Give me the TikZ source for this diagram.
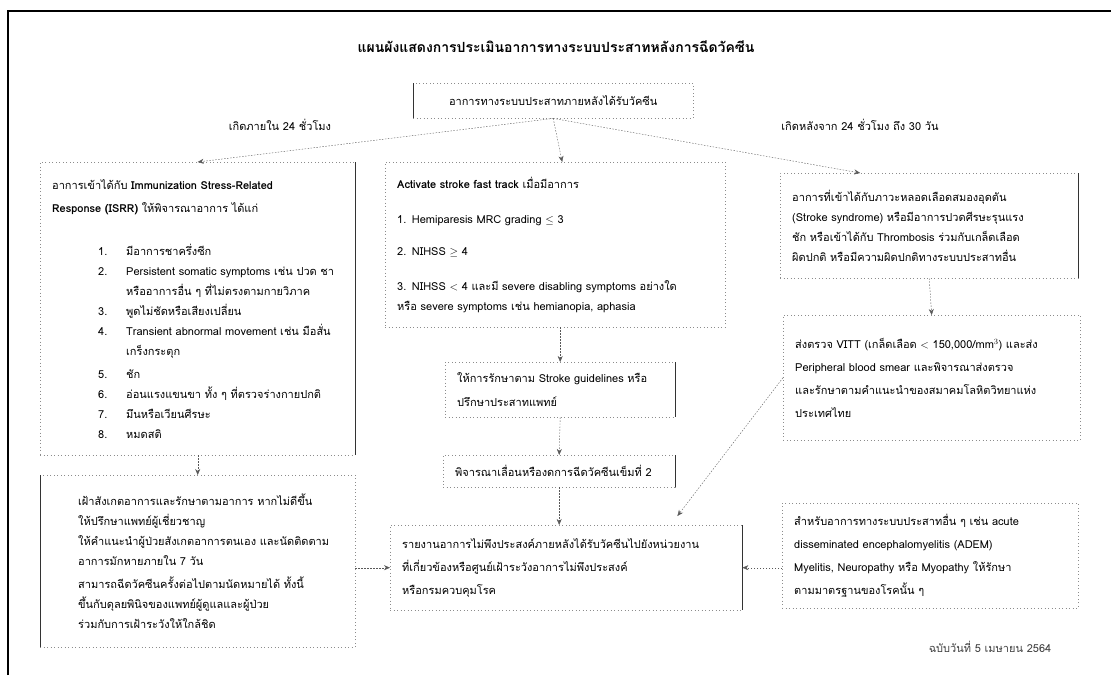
\documentclass[tikz,border=0pt]{standalone}
\usepackage{fontspec}
\setmainfont{Loma}[Script=Thai]
\usetikzlibrary{arrows.meta}

\begin{document}
\begin{tikzpicture}[
		x=1pt, y=-1pt,
		every node/.style={font=\fontsize{11}{20}\selectfont, inner sep=0pt},
		box/.style={draw=black!45, dash pattern=on 1pt off 2.5pt, inner xsep=12pt, anchor=north west, align=left},
		side/.style={draw=black!80, line width=0.9pt},
		link/.style={-{Stealth[length=6pt, width=5pt]}, draw=black!65, dash pattern=on 1.5pt off 1.5pt}
	]
  \useasboundingbox (0, 0) rectangle (1111, 675);
  \draw [line width=2pt] (8, 675) -- (8, 11) -- (1111, 11);
  \node (title) [font=\bfseries\fontsize{14}{16}\selectfont] at (556, 47) {แผนผังแสดงการประเมินอาการทางระบบประสาทหลังการฉีดวัคซีน};
  \node (onset) [box, text width=256pt, minimum height=35pt, align=center] at (413, 83) {อาการทางระบบประสาทภายหลังได้รับวัคซีน};
  \node (early) at (280, 125) {เกิดภายใน 24 ชั่วโมง};
  \node (late) at (860, 125) {เกิดหลังจาก 24 ชั่วโมง ถึง 30 วัน};
  \node (isrr) [box, text width=291pt, minimum height=293pt] at (40, 162) {อาการเข้าได้กับ \textbf{Immunization Stress-Related}\\[3pt]
    \textbf{Response (ISRR)} ให้พิจารณาอาการ ได้แก่\\[23pt]
    \hspace*{46pt}\makebox[28pt][l]{1.}มีอาการชาครึ่งซีก\\
    \hspace*{46pt}\makebox[28pt][l]{2.}Persistent somatic symptoms เช่น ปวด ชา\\
    \hspace*{74pt}หรืออาการอื่น ๆ ที่ไม่ตรงตามกายวิภาค\\
    \hspace*{46pt}\makebox[28pt][l]{3.}พูดไม่ชัดหรือเสียงเปลี่ยน\\
    \hspace*{46pt}\makebox[28pt][l]{4.}Transient abnormal movement เช่น มือสั่น\\
    \hspace*{74pt}เกร็งกระตุก\\[3pt]
    \hspace*{46pt}\makebox[28pt][l]{5.}ชัก\\
    \hspace*{46pt}\makebox[28pt][l]{6.}อ่อนแรงแขนขา ทั้ง ๆ ที่ตรวจร่างกายปกติ\\
    \hspace*{46pt}\makebox[28pt][l]{7.}มึนหรือเวียนศีรษะ\\
    \hspace*{46pt}\makebox[28pt][l]{8.}หมดสติ};
  \node (fasttrack) [box, text width=316pt, minimum height=165pt] at (385, 162) {\textbf{Activate stroke fast track} เมื่อมีอาการ\\[15pt]
    1. Hemiparesis MRC grading $\leq$ 3\\[12pt]
    2. NIHSS $\geq$ 4\\[15pt]
    3. NIHSS $<$ 4 และมี severe disabling symptoms อย่างใด\\
    หรือ severe symptoms เช่น hemianopia, aphasia};
  \node (guideline) [box, text width=206pt, minimum height=55pt] at (445, 362) {ให้การรักษาตาม Stroke guidelines หรือ\\[4pt]
    ปรึกษาประสาทแพทย์};
  \node (secondDose) [box, text width=208pt, minimum height=32pt] at (443, 455) {พิจารณาเลื่อนหรืองดการฉีดวัคซีนเข็มที่ 2};
  \node (report) [box, text width=328pt, minimum height=85pt] at (390, 525) {รายงานอาการไม่พึงประสงค์ภายหลังได้รับวัคซีนไปยังหน่วยงาน\\[3pt]
    ที่เกี่ยวข้องหรือศูนย์เฝ้าระวังอาการไม่พึงประสงค์\\[3pt]
    หรือกรมควบคุมโรค};
  \node (vascular) [box, text width=274pt, minimum height=105pt] at (780, 173) {อาการที่เข้าได้กับภาวะหลอดเลือดสมองอุดตัน\\
    (Stroke syndrome) หรือมีอาการปวดศีรษะรุนแรง\\
    ชัก หรือเข้าได้กับ Thrombosis ร่วมกับเกล็ดเลือด\\
    ผิดปกติ หรือมีความผิดปกติทางระบบประสาทอื่น};
  \node (vitt) [box, text width=273pt, minimum height=125pt] at (783, 315) {ส่งตรวจ VITT (เกล็ดเลือด $<$ 150,000/mm$^3$) และส่ง\\[3pt]
    Peripheral blood smear และพิจารณาส่งตรวจ\\[3pt]
    และรักษาตามคำแนะนำของสมาคมโลหิตวิทยาแห่ง\\[3pt]
    ประเทศไทย};
  \node (other) [box, text width=272pt, minimum height=105pt] at (782, 503) {สำหรับอาการทางระบบประสาทอื่น ๆ เช่น acute\\[3pt]
    disseminated encephalomyelitis (ADEM)\\[3pt]
    Myelitis, Neuropathy หรือ Myopathy ให้รักษา\\[3pt]
    ตามมาตรฐานของโรคนั้น ๆ};
  \node (followup) [box, text width=291pt, minimum height=172pt] at (40, 475) {\leftskip=26pt
    เฝ้าสังเกตอาการและรักษาตามอาการ หากไม่ดีขึ้น\\
    ให้ปรึกษาแพทย์ผู้เชี่ยวชาญ\\
    ให้คำแนะนำผู้ป่วยสังเกตอาการตนเอง และนัดติดตาม\\
    อาการมักหายภายใน 7 วัน\\[3pt]
    สามารถฉีดวัคซีนครั้งต่อไปตามนัดหมายได้ ทั้งนี้\\
    ขึ้นกับดุลยพินิจของแพทย์ผู้ดูแลและผู้ป่วย\\
    ร่วมกับการเฝ้าระวังให้ใกล้ชิด\par};
  \node (footer) [text=black!75] at (990, 647) {ฉบับวันที่ 5 เมษายน 2564};
  \draw [side] (onset.north west) -- (onset.south west);
  \draw [side] (isrr.north east) -- (isrr.south east);
  \draw [side] (guideline.north east) -- (guideline.south east);
  \draw [side] (secondDose.north east) -- (secondDose.south east);
  \draw [side] (report.north east) -- (report.south east);
  \draw [side] (vascular.north east) -- (vascular.south east);
  \draw [side] (followup.north west) -- (followup.south west);
  \draw [link] (onset.south) -- (isrr.north);
  \draw [link] (onset.south) -- ([xshift=7pt]fasttrack.north);
  \draw [link] (onset.south) -- ([xshift=-69pt]vascular.north);
  \draw [link] (isrr.south) -- (followup.north);
  \draw [link] (guideline.north |- fasttrack.south) -- (guideline.north);
  \draw [link] (guideline.south) -- (secondDose.north);
  \draw [link] (secondDose.south) -- (secondDose.south |- report.north);
  \draw [link] (vascular.south) -- (vitt.north);
  \draw [link] (vitt.west) -- ([xshift=-65pt, yshift=9pt]report.north east);
  \draw [link] (followup.east |- report.west) -- (report.west);
  \draw [link] (other.west |- report.east) -- (report.east);
\end{tikzpicture}
\end{document}
